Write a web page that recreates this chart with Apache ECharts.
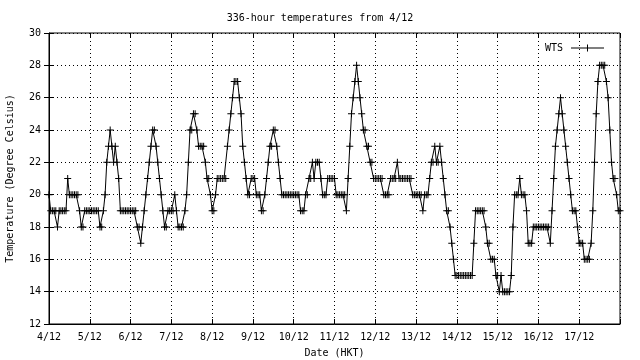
<!DOCTYPE html>
<html>
<head>
<meta charset="utf-8">
<script src="https://cdn.jsdelivr.net/npm/echarts@6/dist/echarts.min.js"></script>
<style>html,body{margin:0;padding:0;background:#fff}#c{width:640px;height:360px}</style>
</head>
<body>
<div id="c"></div>
<script>
// Hourly temperatures (deg C) from 4/12 00:00, 337 readings
const day0  = [20,19,19,19,19,18,19,19,19,19,19,21,20,20,20,20,20,20,19,18,18,19,19,19];
const day1  = [19,19,19,19,19,19,18,18,19,20,22,23,24,23,22,23,22,21,19,19,19,19,19,19];
const day2  = [19,19,19,19,18,18,17,18,19,20,21,22,23,24,24,23,22,21,20,19,18,18,19,19];
const day3  = [19,19,20,19,18,18,18,18,19,20,22,24,24,25,25,24,23,23,23,23,22,21,21,20];
const day4  = [19,19,20,21,21,21,21,21,21,23,24,25,26,27,27,27,26,25,23,22,21,20,20,21];
const day5  = [21,21,20,20,20,19,19,20,21,22,23,23,24,24,23,22,21,20,20,20,20,20,20,20];
const day6  = [20,20,20,20,19,19,19,20,20,21,21,22,21,22,22,22,21,20,20,20,21,21,21,21];
const day7  = [21,20,20,20,20,20,20,19,21,23,25,26,27,28,27,26,25,24,24,23,23,22,22,21];
const day8  = [21,21,21,21,21,20,20,20,20,21,21,21,21,22,21,21,21,21,21,21,21,21,20,20];
const day9  = [20,20,20,20,19,20,20,20,21,22,22,23,22,22,23,22,21,20,19,19,18,17,16,15];
const day10 = [15,15,15,15,15,15,15,15,15,15,17,19,19,19,19,19,19,18,17,17,16,16,16,15];
const day11 = [15,14,15,14,14,14,14,14,15,18,20,20,20,21,20,20,20,19,17,17,17,18,18,18];
const day12 = [18,18,18,18,18,18,18,17,19,21,23,24,25,26,25,24,23,22,21,20,19,19,19,18];
const day13 = [17,17,17,16,16,16,16,17,19,22,25,27,28,28,28,28,27,26,24,22,21,21,20,19,19];
const temps = [].concat(day0,day1,day2,day3,day4,day5,day6,day7,day8,day9,day10,day11,day12,day13);
const dateLabels = ['4/12','5/12','6/12','7/12','8/12','9/12','10/12','11/12','12/12','13/12','14/12','15/12','16/12','17/12',''];
const yTicks = [12,14,16,18,20,22,24,26,28,30];

const FONT = 'DejaVu Sans Mono';
const chart = echarts.init(document.getElementById('c'), null, {renderer:'canvas'});
const plus = 'path://M3,0H4V3H7V4H4V7H3V4H0V3H3Z';
const legendIcon = 'path://M0,3H16V0H17V3H33V4H17V7H16V4H0Z';
const tickStyle = {show:true, inside:true, length:5, lineStyle:{color:'#000', width:1}};
const dotted = {show:true, lineStyle:{color:'#000', width:1, type:[1,3]}};
chart.setOption({
  animation:false,
  backgroundColor:'#fff',
  title:{text:'336-hour temperatures from 4/12', left:'center', top:8,
    textStyle:{fontFamily:FONT, fontSize:10, fontWeight:'normal', color:'#000'}},
  legend:{right:31, top:38, align:'right', itemWidth:33, itemHeight:7, itemGap:0,
    textStyle:{fontFamily:FONT, fontSize:10, color:'#000', padding:[0,3,0,0]},
    data:[{name:'WTS', icon:legendIcon, itemStyle:{color:'#000'}}]},
  grid:{left:49, right:20, top:33, bottom:36, containLabel:false, outerBoundsMode:'none',
    show:true, borderColor:'#000', borderWidth:1},
  xAxis:[{type:'value', min:0, max:336, interval:24,
    name:'Date (HKT)', nameLocation:'middle', nameGap:24,
    nameTextStyle:{fontFamily:FONT, fontSize:10, color:'#000'},
    axisLine:{show:true, lineStyle:{color:'#000'}}, axisTick:tickStyle,
    axisLabel:{fontFamily:FONT, fontSize:10, color:'#000', margin:8,
      formatter:(v)=>dateLabels[Math.round(v/24)] || ''},
    splitLine:dotted},
    {type:'value', position:'top', min:0, max:336, interval:24,
    axisLine:{show:false}, axisTick:tickStyle, axisLabel:{show:false}, splitLine:{show:false}}],
  yAxis:[{type:'value', min:yTicks[0], max:yTicks[yTicks.length-1], interval:2,
    name:'Temperature (Degree Celsius)', nameLocation:'middle', nameGap:34, nameRotate:90,
    nameTextStyle:{fontFamily:FONT, fontSize:10, color:'#000'},
    axisLine:{show:true, lineStyle:{color:'#000'}}, axisTick:tickStyle,
    axisLabel:{fontFamily:FONT, fontSize:10, color:'#000', margin:8},
    splitLine:dotted},
    {type:'value', position:'right', min:yTicks[0], max:yTicks[yTicks.length-1], interval:2,
    axisLine:{show:false}, axisTick:tickStyle, axisLabel:{show:false}, splitLine:{show:false}}],
  series:[{name:'WTS', type:'line', xAxisIndex:0, yAxisIndex:0,
    data:temps.map((v,i)=>[i,v]),
    symbol:plus, symbolSize:7, showSymbol:true, showAllSymbol:true,
    lineStyle:{color:'#000', width:1}, itemStyle:{color:'#000'}}]
});
</script>
</body>
</html>
